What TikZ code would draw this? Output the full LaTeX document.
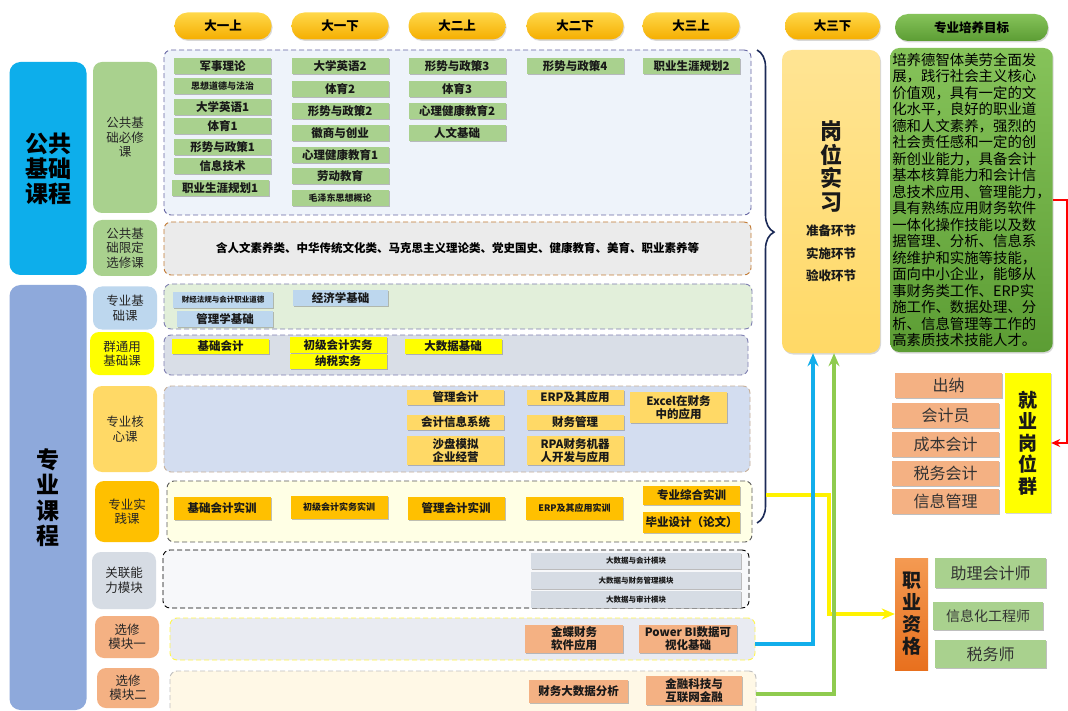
\documentclass[tikz,border=0pt]{standalone}
\usepackage{fontspec}
\setmainfont{Noto Sans CJK SC}
\usetikzlibrary{arrows.meta,shadows,decorations.pathreplacing}

\definecolor{pillA}{HTML}{FFD84A}
\definecolor{pillB}{HTML}{F5AE00}
\definecolor{goalA}{HTML}{86C35A}
\definecolor{goalB}{HTML}{5C9D34}
\definecolor{pubC}{HTML}{0DAEEB}
\definecolor{majC}{HTML}{8EA9DB}
\definecolor{grnC}{HTML}{A9D18E}
\definecolor{bluC}{HTML}{BDD7EE}
\definecolor{ylwC}{HTML}{FFFF00}
\definecolor{lorC}{HTML}{FFD966}
\definecolor{orgC}{HTML}{FFC000}
\definecolor{gryC}{HTML}{D6DCE4}
\definecolor{salC}{HTML}{F4B183}
\definecolor{qorA}{HTML}{F49A52}
\definecolor{qorB}{HTML}{E8701E}
\definecolor{navy}{HTML}{1B2A57}
\definecolor{lnBlue}{HTML}{12AEEB}
\definecolor{lnGreen}{HTML}{8FCB4F}
\definecolor{zA}{HTML}{EEF3FA}
\definecolor{zB}{HTML}{EBEBEB}
\definecolor{zC}{HTML}{E2EFDA}
\definecolor{zD}{HTML}{D9DEE7}
\definecolor{zE}{HTML}{D3DDF0}
\definecolor{zF}{HTML}{FFFFE5}
\definecolor{zG}{HTML}{F7F8FA}
\definecolor{zH}{HTML}{E9EBF2}
\definecolor{zI}{HTML}{FFF8E6}

\newcommand\smf{\fontsize{9}{10}\selectfont}
\newcommand\tnf{\fontsize{7.5}{9}\selectfont}
\newcommand\stf{\fontsize{12.5}{22.5}\selectfont}

\tikzset{
  semester/.style={rounded corners=13pt,minimum width=97pt,minimum height=27pt,top color=pillA,bottom color=pillB,font=\fontsize{12.5}{14}\selectfont\bfseries,drop shadow={shadow xshift=1pt,shadow yshift=-1.5pt,opacity=.3}},
  group/.style={rounded corners=9pt,align=center,text=black!85,font=\fontsize{12.5}{14.5}\selectfont},
  zone/.style={rounded corners=7pt,line width=.9pt,dash pattern=on 5pt off 3pt},
  course/.style={minimum width=97pt,minimum height=15.5pt,inner sep=0pt,align=center,text=black!90,font=\fontsize{11.5}{13}\selectfont\bfseries,drop shadow={shadow xshift=1pt,shadow yshift=-1.2pt,fill=black!50,opacity=.5}},
  vlabel/.style={align=center,text=black!90,font=\fontsize{19}{21.5}\selectfont\bfseries},
  job/.style={minimum width=107pt,minimum height=25pt,inner sep=0pt,text=black!80,font=\fontsize{16}{18}\selectfont,drop shadow={shadow xshift=1pt,shadow yshift=-1.2pt,fill=black!50,opacity=.5}},
  flow/.style={line width=3.5pt,-{Stealth[length=13pt,width=11pt]}},
}

\begin{document}
\begin{tikzpicture}[x=1pt,y=-1pt]
\useasboundingbox[fill=white] (0,0) rectangle (1068,711);

\node[semester] (s11) at (223,26) {大一上};
\node[semester] (s12) at (340,26) {大一下};
\node[semester] (s21) at (457,26) {大二上};
\node[semester] (s22) at (575,26) {大二下};
\node[semester] (s31) at (691,26) {大三上};
\node[semester,minimum width=95pt] (s32) at (832.5,26) {大三下};
\node[semester,minimum width=153pt,top color=goalA,bottom color=goalB] (goalhd) at (971.5,27.5) {专业培养目标};

\node[group,fill=pubC,minimum width=77pt,minimum height=213pt,rounded corners=11pt,text=black,font=\fontsize{23}{25}\selectfont\bfseries] (pub) at (48,168.5) {公共\\基础\\课程};
\node[group,fill=majC,minimum width=77pt,minimum height=425pt,rounded corners=11pt,text=black,font=\fontsize{23}{25.5}\selectfont\bfseries] (maj) at (48,497.5) {专\\业\\课\\程};

\node[group,fill=grnC,minimum width=64pt,minimum height=151pt] (g1) at (125,137.5) {公共基\\础必修\\课};
\node[group,fill=grnC,minimum width=64pt,minimum height=56pt] (g2) at (125,248) {公共基\\础限定\\选修课};
\node[group,fill=bluC,minimum width=64pt,minimum height=43pt] (g3) at (125,308) {专业基\\础课};
\node[group,fill=ylwC,minimum width=64pt,minimum height=43pt] (g4) at (122,353.5) {群通用\\基础课};
\node[group,fill=lorC,minimum width=64pt,minimum height=86pt] (g5) at (125,429) {专业核\\心课};
\node[group,fill=orgC,minimum width=64pt,minimum height=61pt] (g6) at (127,511.5) {专业实\\践课};
\node[group,fill=gryC,minimum width=64pt,minimum height=57pt] (g7) at (124,580.5) {关联能\\力模块};
\node[group,fill=salC,minimum width=64pt,minimum height=42pt] (g8) at (127,637) {选修\\模块一};
\node[group,fill=salC,minimum width=62pt,minimum height=40pt] (g9) at (128,688) {选修\\模块二};

\node[zone,draw=black!60!blue!60,fill=zA,minimum width=587pt,minimum height=165pt] (z1) at (457.5,132.5) {};
\node[zone,draw=orange!70!black!80,fill=zB,minimum width=587pt,minimum height=53pt,font=\fontsize{11.5}{13}\selectfont\bfseries] (z2) at (457.5,248.5) {含人文素养类、中华传统文化类、马克思主义理论类、党史国史、健康教育、美育、职业素养等};
\node[zone,draw=black!60!blue!50,fill=zC,minimum width=588pt,minimum height=45pt] (z3) at (458,306.5) {};
\node[zone,draw=black!60!blue!50,fill=zD,minimum width=584pt,minimum height=40pt] (z4) at (456,355) {};
\node[zone,draw=black!55!orange!40,fill=zE,minimum width=586pt,minimum height=86pt] (z5) at (457,429) {};
\node[zone,draw=black!65,fill=zF,minimum width=585pt,minimum height=61pt] (z6) at (459.5,511.5) {};
\node[zone,draw=black,fill=zG,minimum width=586pt,minimum height=58pt] (z7) at (456,579) {};
\node[zone,draw=yellow!70,fill=zH,minimum width=585pt,minimum height=42pt] (z8) at (462.5,639) {};
\node[zone,draw=black!25,fill=zI,minimum width=586pt,minimum height=46pt] (z9) at (463,694) {};

\foreach \t/\y [count=\i] in {军事理论/66,\smf 思想道德与法治/86,大学英语1/107,体育1/126,形势与政策1/147,信息技术/166}
  \node[course,fill=grnC] (pa\i) at (222.5,\y) {\t};
\node[course,fill=grnC] (pa7) at (220,188) {职业生涯规划1};
\foreach \t/\y [count=\i] in {大学英语2/66,体育2/89,形势与政策2/111,徽商与创业/133,心理健康教育1/155,劳动教育/176,\smf 毛泽东思想概论/198}
  \node[course,fill=grnC] (pb\i) at (340,\y) {\t};
\foreach \t/\y [count=\i] in {形势与政策3/66,体育3/89,心理健康教育2/111,人文基础/133}
  \node[course,fill=grnC] (pc\i) at (457,\y) {\t};
\node[course,fill=grnC] (pd1) at (575,66) {形势与政策4};
\node[course,fill=grnC] (pe1) at (691.5,66) {职业生涯规划2};

\node[course,fill=bluC,minimum width=100pt] (b1) at (223,300) {\tnf 财经法规与会计职业道德};
\node[course,fill=bluC,minimum width=95pt] (b2) at (340.5,298) {经济学基础};
\node[course,fill=bluC,minimum width=96pt] (b3) at (225,319) {管理学基础};

\node[course,fill=ylwC] (y1) at (220.5,346.5) {基础会计};
\node[course,fill=ylwC] (y2) at (338,345) {初级会计实务};
\node[course,fill=ylwC] (y3) at (338,361.5) {纳税实务};
\node[course,fill=ylwC] (y4) at (453,346.5) {大数据基础};

\node[course,fill=lorC] (k1) at (455.5,397.5) {管理会计};
\node[course,fill=lorC] (k2) at (455.5,422.5) {会计信息系统};
\node[course,fill=lorC,minimum height=29pt] (k3) at (455.5,450.5) {沙盘模拟\\企业经营};
\node[course,fill=lorC] (k4) at (575,397.5) {ERP及其应用};
\node[course,fill=lorC] (k5) at (575,422.5) {财务管理};
\node[course,fill=lorC,minimum height=29pt] (k6) at (575,450.5) {RPA财务机器\\人开发与应用};
\node[course,fill=lorC,minimum height=31pt] (k7) at (678.5,407.5) {Excel在财务\\中的应用};

\node[course,fill=orgC,minimum height=23pt] (p1) at (222,508.5) {基础会计实训};
\node[course,fill=orgC,minimum height=23pt] (p2) at (339,507.5) {\smf 初级会计实务实训};
\node[course,fill=orgC,minimum height=23pt] (p3) at (456,508.5) {管理会计实训};
\node[course,fill=orgC,minimum height=23pt] (p4) at (574.5,508.5) {\smf ERP及其应用实训};
\node[course,fill=orgC,minimum height=19pt] (p5) at (691.5,495.5) {专业综合实训};
\node[course,fill=orgC,minimum height=21pt] (p6) at (691.5,522.5) {毕业设计（论文）};

\foreach \t/\y [count=\i] in {大数据与会计模块/561,大数据与财务管理模块/580.5,大数据与审计模块/599.5}
  \node[course,fill=gryC,minimum width=210pt,minimum height=16.5pt,font=\tnf\bfseries] (r\i) at (636,\y) {\t};

\node[course,fill=salC,minimum width=98pt,minimum height=28pt] (e1) at (574,639) {金蝶财务\\软件应用};
\node[course,fill=salC,minimum width=98pt,minimum height=28pt] (e2) at (688,639) {Power BI数据可\\视化基础};
\node[course,fill=salC,minimum width=99pt,minimum height=23pt] (e3) at (578.5,691.5) {财务大数据分析};
\node[course,fill=salC,minimum width=96pt,minimum height=29pt] (e4) at (694,690.5) {金融科技与\\互联网金融};

\node[rounded corners=10pt,minimum width=98pt,minimum height=303pt,top color=lorC!70!white,bottom color=lorC,align=center,text=black!90,font=\fontsize{22}{23.5}\selectfont\bfseries,drop shadow={shadow xshift=1pt,shadow yshift=-1.5pt,opacity=.3}] (intern) at (831,201.5) {岗\\位\\实\\习\\[2pt]{\stf 准备环节}\\[-1pt]{\stf 实施环节}\\[-1pt]{\stf 验收环节}};

\node[rounded corners=9pt,minimum width=153pt,minimum height=304pt,inner sep=2pt,top color=goalA,bottom color=goalB,align=left,font=\fontsize{14.4}{16.5}\selectfont,drop shadow={shadow xshift=1pt,shadow yshift=-1.5pt,opacity=.3}] (goal) at (971.5,200) {培养德智体美劳全面发\\展，践行社会主义核心\\价值观，具有一定的文\\化水平，良好的职业道\\德和人文素养，强烈的\\社会责任感和一定的创\\新创业能力，具备会计\\基本核算能力和会计信\\息技术应用、管理能力，\\具有熟练应用财务软件\\一体化操作技能以及数\\据管理、分析、信息系\\统维护和实施等技能，\\面向中小企业，能够从\\事财务类工作、ERP实\\施工作、数据处理、分\\析、信息管理等工作的\\高素质技术技能人才。};

\foreach \t/\x/\y [count=\i] in {出纳/948.5/385.5,会计员/945.5/415.5,成本会计/945.5/444.5,税务会计/945.5/473,信息管理/945.5/501.5}
  \node[job,fill=salC] (j\i) at (\x,\y) {\t};
\node[vlabel,fill=ylwC,minimum width=46pt,minimum height=140pt,drop shadow={shadow xshift=1pt,shadow yshift=-1.2pt,fill=black!40,opacity=.4}] (jobs) at (1028,443) {就\\业\\岗\\位\\群};

\node[vlabel,top color=qorA,bottom color=qorB,minimum width=33pt,minimum height=112pt,inner sep=0pt,font=\fontsize{19}{22}\selectfont\bfseries] (qual) at (911.5,614) {职\\业\\资\\格};
\node[job,fill=grnC,minimum width=111pt,minimum height=30pt] (q1) at (990.5,573) {助理会计师};
\node[job,fill=grnC,minimum width=110pt,minimum height=28pt,font=\fontsize{14}{16}\selectfont] (q2) at (988,616) {信息化工程师};
\node[job,fill=grnC,minimum width=111pt,minimum height=28pt] (q3) at (990.5,654) {税务师};

\draw[navy,line width=1.6pt,decorate,decoration={brace,amplitude=17pt,aspect=0.385}] (757,50) -- (757,523);
\coordinate (brk) at (766,495);

\draw[flow,yellow] (brk) -- ++(63,0) |- (qual.west);
\draw[flow,lnBlue] ([yshift=-5pt]z8.east) -| ([xshift=-18pt]intern.south);
\draw[flow,lnGreen] (z9.east) -| ([xshift=3pt]intern.south);
\draw[red,line width=2.6pt,-{Stealth[length=9pt,width=8pt]}] (goal.east) -- ++(14,0) |- (jobs.east);
\end{tikzpicture}
\end{document}
